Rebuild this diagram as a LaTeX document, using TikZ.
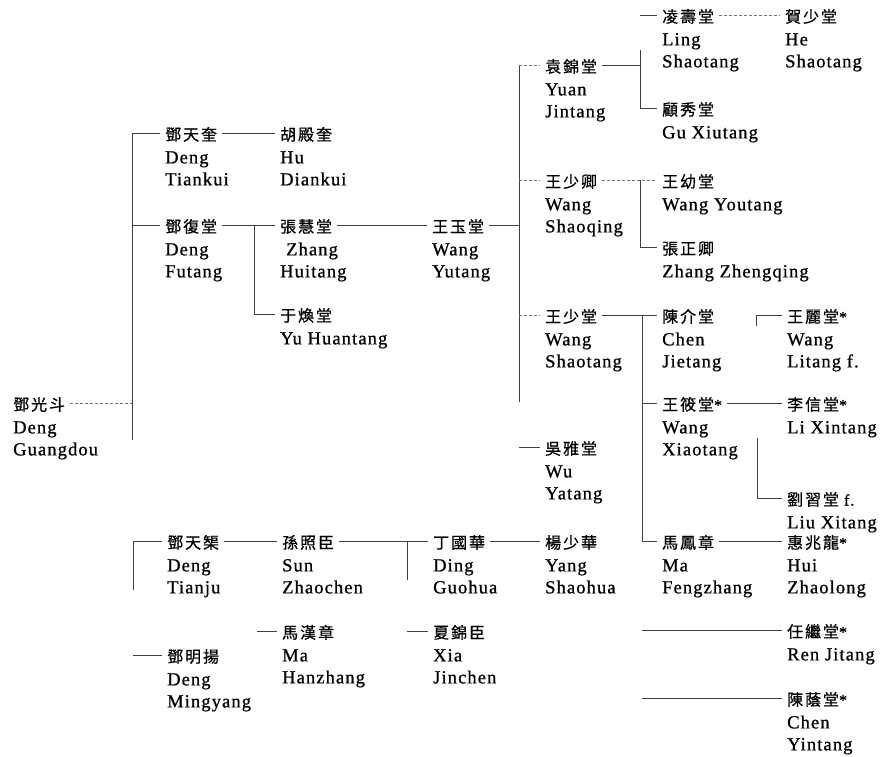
\documentclass[tikz,border=0pt]{standalone}
\usepackage{fontspec}
\setmainfont{Liberation Serif}[LetterSpace=6, FakeBold=0.8]
\newfontfamily\cjk{Noto Sans CJK TC}[LetterSpace=12, FakeBold=0.6]
\newcommand\perso[4]{%
  \node[cn] (#1) at (#2) {#3};
  \node[rn] (#1-r) at (#1.south west) {\rule{0pt}{22.5pt}#4};}
\begin{document}
\begin{tikzpicture}[x=1pt,y=-1pt,
  cn/.style={anchor=west, inner xsep=5pt, inner ysep=0pt, text height=15pt, text depth=0pt,
    font=\cjk\fontsize{16}{18}\selectfont},
  rn/.style={anchor=north west, inner xsep=5pt, inner ysep=0pt, align=left,
    font=\fontsize{18.5}{22}\selectfont},
  ln/.style={draw=black!75, line width=0.75pt},
  fl/.style={draw=black!55, line width=0.75pt, densely dashed}]
\useasboundingbox (0,0) rectangle (881,757);
\perso{gd}{8,403}{鄧光斗}{Deng\\Guangdou}
\perso{tk}{160,133}{鄧天奎}{Deng\\Tiankui}
\perso{hdk}{275,133}{胡殿奎}{Hu\\Diankui}
\perso{ft}{160,225}{鄧復堂}{Deng\\Futang}
\perso{zht}{275,225}{張慧堂}{\hspace{6pt}Zhang\\Huitang}
\perso{yht}{275,314}{于煥堂}{Yu Huantang}
\perso{wyt}{427,225}{王玉堂}{Wang\\Yutang}
\perso{yjt}{540,65}{袁錦堂}{Yuan\\Jintang}
\perso{lst}{657,15}{凌壽堂}{Ling\\Shaotang}
\perso{hst}{780,15}{賀少堂}{He\\Shaotang}
\perso{gxt}{657,108}{顧秀堂}{Gu Xiutang}
\perso{wsq}{540,180}{王少卿}{Wang\\Shaoqing}
\perso{wyout}{657,180}{王幼堂}{Wang Youtang}
\perso{zzq}{657,247}{張正卿}{Zhang Zhengqing}
\perso{wst}{540,315}{王少堂}{Wang\\Shaotang}
\perso{cjt}{657,315}{陳介堂}{Chen\\Jietang}
\perso{wlt}{782,315}{王麗堂{\rmfamily*}}{Wang\\Litang f.}
\perso{wxt}{657,403}{王筱堂{\rmfamily*}}{Wang\\Xiaotang}
\perso{lxt}{782,403}{李信堂{\rmfamily*}}{Li Xintang}
\perso{lxit}{782,498}{劉習堂{\rmfamily\ f.}}{Liu Xitang}
\perso{wyat}{540,447}{吳雅堂}{Wu\\Yatang}
\perso{ysh}{540,541}{楊少華}{Yang\\Shaohua}
\perso{mfz}{657,541}{馬鳳章}{Ma\\Fengzhang}
\perso{hzl}{782,541}{惠兆龍{\rmfamily*}}{Hui\\Zhaolong}
\perso{rjt}{782,630}{任繼堂{\rmfamily*}}{Ren Jitang}
\perso{cyt}{782,698}{陳蔭堂{\rmfamily*}}{Chen\\Yintang}
\perso{dtj}{162,541}{鄧天榘}{Deng\\Tianju}
\perso{szc}{277,541}{孫照臣}{Sun\\Zhaochen}
\perso{dgh}{428,541}{丁國華}{Ding\\Guohua}
\perso{dmy}{162,655}{鄧明揚}{Deng\\Mingyang}
\perso{mhz}{277,631}{馬漢章}{Ma\\Hanzhang}
\perso{xjc}{428,631}{夏錦臣}{Xia\\Jinchen}
% connectors
\coordinate (b1) at (132,440);
\draw[ln] (b1) |- (tk.west);
\draw[ln] (b1 |- ft.west) -- (ft.west);
\draw[fl] (gd.east) -- (gd.east -| b1);
\draw[ln] (tk.east) -- (hdk.west);
\draw[ln] (ft.east) -- (zht.west);
\coordinate (j1) at (254,0);
\draw[ln] (ft.east -| j1) |- (yht.west);
\draw[ln] (zht.east) -- (wyt.west);
\coordinate (j2) at (519,402);
\draw[ln] (wyt.east) -- (wyt.east -| j2);
\draw[ln] (j2 |- yjt.west) -- (j2);
\draw[fl] (j2 |- yjt.west) -- (yjt.west);
\draw[fl] (j2 |- wsq.west) -- (wsq.west);
\draw[fl] (j2 |- wst.west) -- (wst.west);
\draw[ln] (wyat.west -| j2) -- (wyat.west);
\coordinate (j3) at (640,50);
\draw[ln] (yjt.east) -- (yjt.east -| j3);
\draw[ln] (j3) |- (gxt.west);
\draw[ln] (lst.west -| j3) -- (lst.west);
\draw[fl] (lst.east) -- (hst.west);
\draw[fl] (wsq.east) -- (wyout.west);
\draw[ln] (wsq.east -| j3) |- (zzq.west);
\coordinate (j4) at (642,0);
\draw[ln] (wst.east) -- (cjt.west);
\draw[ln] (wst.east -| j4) |- (mfz.west);
\draw[ln] (wxt.west -| j4) -- (wxt.west);
\draw[ln] (rjt.west -| j4) -- (rjt.west);
\draw[ln] (cyt.west -| j4) -- (cyt.west);
\coordinate (k1) at (756,326);
\draw[ln] (k1) |- (wlt.west);
\draw[ln] (wxt.east) -- (lxt.west);
\coordinate (k2) at (757,438);
\draw[ln] (k2) |- (lxit.west);
\draw[ln] (mfz.east) -- (hzl.west);
\draw[ln] (dgh.east) -- (ysh.west);
\coordinate (b2) at (133,590);
\draw[ln] (b2) |- (dtj.west);
\draw[ln] (dmy.west -| b2) -- (dmy.west);
\draw[ln] (dtj.east) -- (szc.west);
\coordinate (k4) at (257,0);
\draw[ln] (mhz.west -| k4) -- (mhz.west);
\coordinate (k5) at (407,580);
\draw[ln] (szc.east) -- (dgh.west);
\draw[ln] (k5) -- (k5 |- dgh.west);
\draw[ln] (xjc.west -| k5) -- (xjc.west);
\end{tikzpicture}
\end{document}
